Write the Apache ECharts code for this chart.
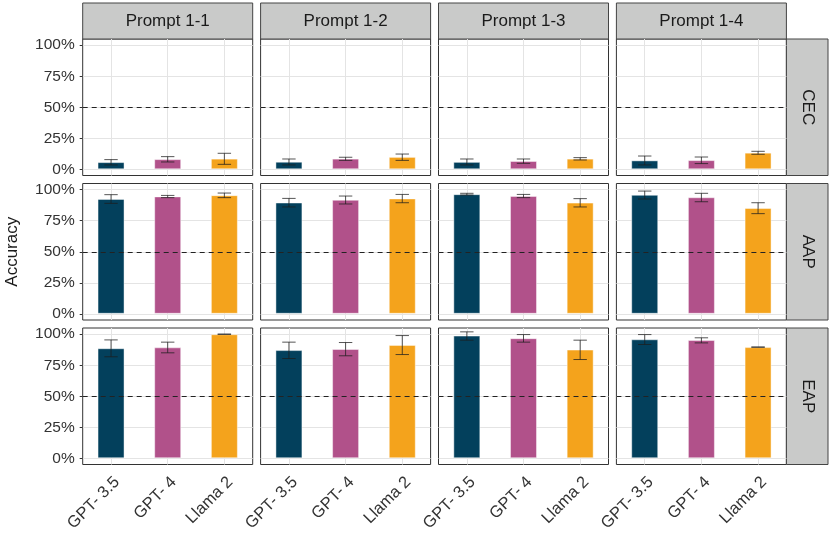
<!DOCTYPE html>
<html>
<head>
<meta charset="utf-8">
<script src="https://cdn.jsdelivr.net/npm/echarts@6/dist/echarts.min.js"></script>
<style>
  html, body { margin: 0; padding: 0; background: #fff; }
  #chart { width: 830px; height: 540px; }
</style>
</head>
<body>
<div id="chart"></div>
<script>
const prompts = ["Prompt 1-1", "Prompt 1-2", "Prompt 1-3", "Prompt 1-4"];
const metrics = ["CEC", "AAP", "EAP"];
const models = ["GPT- 3.5", "GPT- 4", "Llama 2"];
const modelColors = ["#03405c", "#b1518a", "#f4a31c"];
const yTicks = [0, 25, 50, 75, 100];
const chance = 50;

// mean accuracy (%) per prompt, one row per prompt, one value per model
const cecMean = [[5.8, 8.2, 8.6], [6.1, 8.6, 10.0], [6.0, 6.7, 8.6], [7.2, 7.4, 13.4]];
const cecLow  = [[3.5, 5.9, 4.0], [3.5, 7.2, 7.2], [3.5, 4.8, 7.5], [3.5, 4.6, 12.1]];
const cecHigh = [[7.8, 10.2, 12.9], [8.3, 9.7, 12.3], [8.3, 8.3, 9.4], [10.7, 9.9, 14.5]];

const aapMean = [[92.6, 94.6, 95.6], [89.7, 91.9, 93.0], [96.4, 95.0, 89.6], [95.9, 93.9, 85.3]];
const aapLow  = [[89.0, 93.6, 93.6], [86.1, 88.5, 89.5], [95.7, 93.6, 86.1], [92.5, 90.3, 80.7]];
const aapHigh = [[96.0, 95.4, 97.3], [93.0, 94.9, 96.2], [97.1, 96.2, 92.8], [98.9, 97.1, 89.5]];

const eapMean = [[88.7, 89.4, 100.0], [87.2, 88.1, 91.4], [98.9, 96.8, 87.6], [95.9, 95.3, 89.6]];
const eapLow  = [[81.8, 85.0, 100.0], [80.4, 82.6, 83.6], [95.2, 93.6, 79.6], [91.7, 93.0, 89.6]];
const eapHigh = [[95.4, 93.6, 100.0], [93.6, 93.3, 98.9], [101.9, 99.7, 95.2], [99.7, 97.1, 89.6]];

const means = [cecMean, aapMean, eapMean];
const lows = [cecLow, aapLow, eapLow];
const highs = [cecHigh, aapHigh, eapHigh];

const FONT = "Liberation Sans, Arial, sans-serif";
const colLeft = [82.7, 260.6, 438.5, 616.4];
const panelW = 170;
const rowTop = [39, 183.5, 328];
const panelH = 136.5;
const stripBg = "#c9cac9";

const grids = [], xAxes = [], yAxes = [], series = [], graphics = [];

metrics.forEach((metric, r) => {
  prompts.forEach((prompt, c) => {
    const idx = r * prompts.length + c;
    const bottomRow = r === metrics.length - 1;
    grids.push({
      left: colLeft[c], top: rowTop[r], width: panelW, height: panelH,
      show: true, backgroundColor: "#fff", borderColor: "#333", borderWidth: 1
    });
    xAxes.push({
      type: "category", gridIndex: idx, data: models, boundaryGap: true,
      axisLine: { show: false },
      axisTick: { show: bottomRow, alignWithLabel: true, length: 4, lineStyle: { color: "#333" } },
      axisLabel: {
        show: bottomRow, rotate: 45, fontSize: 16.5, fontFamily: FONT, color: "#333",
        margin: 9, verticalAlign: "top"
      },
      splitLine: { show: false }
    });
    yAxes.push({
      type: "value", gridIndex: idx, min: -5, max: 105,
      axisLine: { show: false },
      axisTick: { show: c === 0, length: 3, customValues: yTicks, lineStyle: { color: "#333" } },
      axisLabel: {
        show: c === 0, customValues: yTicks, fontSize: 15.5, fontFamily: FONT, color: "#333", margin: 8,
        formatter: v => v + "%"
      },
      splitLine: { show: true, lineStyle: { color: "#e4e4e4", width: 1 } }
    });
    series.push({
      type: "bar", xAxisIndex: idx, yAxisIndex: idx, barWidth: 27,
      data: means[r][c].map((v, i) => ({
        value: v,
        itemStyle: { color: modelColors[i], borderColor: "rgba(255,255,255,0.45)", borderWidth: 1 }
      })),
      markLine: {
        silent: true, symbol: "none", z: 1, label: { show: false },
        lineStyle: { color: "#e4e4e4", width: 1, type: "solid" },
        data: models.map(m => ({ xAxis: m }))
      }
    });
    series.push({
      type: "custom", xAxisIndex: idx, yAxisIndex: idx, z: 3,
      data: models.map((m, i) => [i, lows[r][c][i], highs[r][c][i]]),
      encode: { x: 0, y: [1, 2] },
      renderItem: (params, api) => {
        const x = api.value(0);
        const lo = api.coord([x, api.value(1)]);
        const hi = api.coord([x, api.value(2)]);
        const w = 6.7;
        const style = { stroke: "rgba(30,30,30,0.75)", lineWidth: 1, fill: null };
        return {
          type: "group",
          children: [
            { type: "line", shape: { x1: lo[0], y1: lo[1], x2: hi[0], y2: hi[1] }, style },
            { type: "line", shape: { x1: lo[0] - w, y1: lo[1], x2: lo[0] + w, y2: lo[1] }, style },
            { type: "line", shape: { x1: hi[0] - w, y1: hi[1], x2: hi[0] + w, y2: hi[1] }, style }
          ]
        };
      },
      markLine: {
        silent: true, symbol: "none", z: 5, label: { show: false },
        lineStyle: { color: "#222", width: 1, type: [5, 4] },
        data: [{ yAxis: chance }]
      }
    });
  });
});

// facet strips
prompts.forEach((p, c) => {
  graphics.push({
    type: "rect", shape: { x: colLeft[c], y: 3, width: panelW, height: rowTop[0] - 3 },
    style: { fill: stripBg, stroke: "#444", lineWidth: 1 }
  });
  graphics.push({
    type: "text", x: colLeft[c] + panelW / 2, y: (3 + rowTop[0]) / 2,
    style: { text: p, fill: "#1a1a1a", font: "17px " + FONT, textAlign: "center", textVerticalAlign: "middle" }
  });
});
const stripX = colLeft[3] + panelW;
metrics.forEach((m, r) => {
  graphics.push({
    type: "rect", shape: { x: stripX, y: rowTop[r], width: 828 - stripX, height: panelH },
    style: { fill: stripBg, stroke: "#444", lineWidth: 1 }
  });
  graphics.push({
    type: "text", x: (stripX + 828) / 2, y: rowTop[r] + panelH / 2, rotation: -Math.PI / 2,
    style: { text: m, fill: "#1a1a1a", font: "17px " + FONT, textAlign: "center", textVerticalAlign: "middle" }
  });
});
graphics.push({
  type: "text", x: 12, y: (rowTop[0] + rowTop[2] + panelH) / 2, rotation: Math.PI / 2,
  style: { text: "Accuracy", fill: "#1a1a1a", font: "17px " + FONT, textAlign: "center", textVerticalAlign: "middle" }
});

const chart = echarts.init(document.getElementById("chart"));
chart.setOption({
  animation: false,
  backgroundColor: "#fff",
  grid: grids,
  xAxis: xAxes,
  yAxis: yAxes,
  series: series,
  graphic: graphics
});
</script>
</body>
</html>
